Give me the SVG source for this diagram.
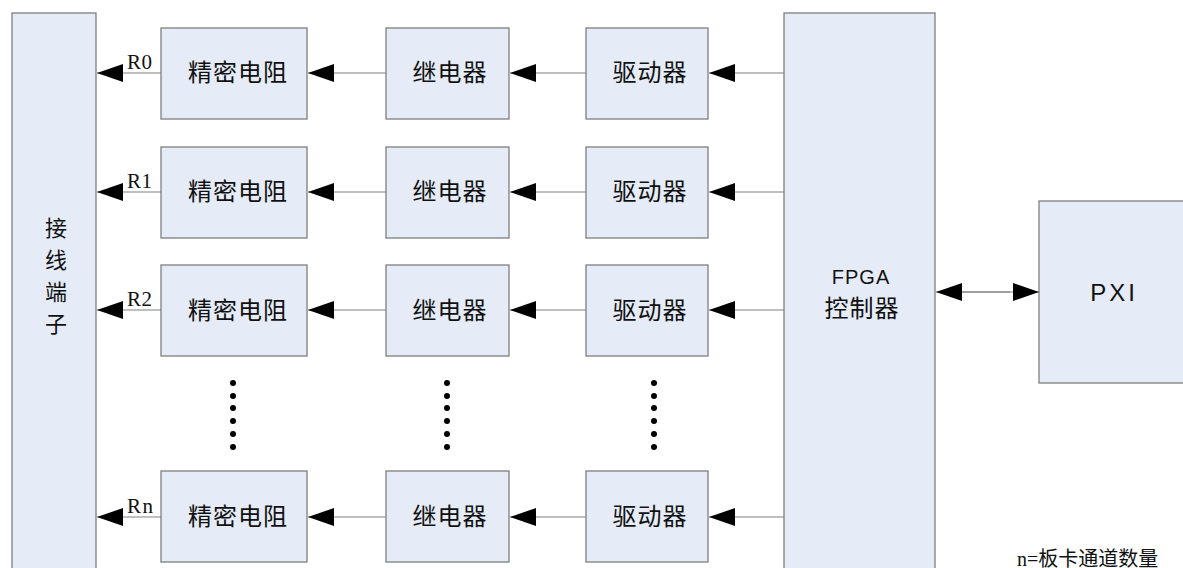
<svg xmlns="http://www.w3.org/2000/svg" width="1183" height="568" viewBox="0 0 1183 568">
<style>
.box{fill:#e5ecf7;stroke:#7f7f7f;stroke-width:1.3}
.t{font-family:"Noto Sans CJK SC","Liberation Sans",sans-serif;font-size:24px;fill:#111;text-anchor:middle;letter-spacing:1px}
.v{font-family:"Noto Sans CJK SC",sans-serif;font-size:22px;fill:#111;text-anchor:middle}
.r{font-family:"Liberation Serif",serif;font-size:21px;fill:#111}
.ln{stroke:#808080;stroke-width:1.2;fill:none}
.dot{fill:#000}
</style>
<defs>
<marker id="ah" markerUnits="userSpaceOnUse" markerWidth="28" markerHeight="20" refX="26" refY="9" orient="auto">
<path d="M0,0 L26,9 L0,18 Z" fill="#000"/>
</marker>
</defs>
<rect width="1183" height="568" fill="#fff"/>

<g id="terminal">
<rect class="box" x="12" y="13" width="84" height="570"/>
<text class="v" x="56" y="236">接</text>
<text class="v" x="56" y="268">线</text>
<text class="v" x="56" y="300">端</text>
<text class="v" x="56" y="332">子</text>
</g>

<g id="fpga">
<rect class="box" x="784" y="13" width="151" height="570"/>
<text class="t" x="861" y="284" style="font-family:'Liberation Sans',sans-serif;font-size:20px;letter-spacing:1px">FPGA</text>
<text class="t" x="862" y="317">控制器</text>
</g>

<g id="pxi">
<rect class="box" x="1039" y="201" width="150" height="182"/>
<text class="t" x="1114" y="301" style="font-family:'Liberation Sans',sans-serif;font-size:24px;letter-spacing:3px">PXI</text>
</g>

<g id="row0">
<rect class="box" x="161" y="28" width="146" height="91"/>
<text class="t" x="238" y="81">精密电阻</text>
<rect class="box" x="386" y="28" width="123" height="91"/>
<text class="t" x="450" y="81">继电器</text>
<rect class="box" x="586" y="28" width="122" height="91"/>
<text class="t" x="650" y="81">驱动器</text>
</g>
<g id="row1">
<rect class="box" x="161" y="147" width="146" height="91"/>
<text class="t" x="238" y="200">精密电阻</text>
<rect class="box" x="386" y="147" width="123" height="91"/>
<text class="t" x="450" y="200">继电器</text>
<rect class="box" x="586" y="147" width="122" height="91"/>
<text class="t" x="650" y="200">驱动器</text>
</g>
<g id="row2">
<rect class="box" x="161" y="265" width="146" height="91"/>
<text class="t" x="238" y="319">精密电阻</text>
<rect class="box" x="386" y="265" width="123" height="91"/>
<text class="t" x="450" y="319">继电器</text>
<rect class="box" x="586" y="265" width="122" height="91"/>
<text class="t" x="650" y="319">驱动器</text>
</g>
<g id="rown">
<rect class="box" x="161" y="471" width="146" height="91"/>
<text class="t" x="238" y="525">精密电阻</text>
<rect class="box" x="386" y="471" width="123" height="91"/>
<text class="t" x="450" y="525">继电器</text>
<rect class="box" x="586" y="471" width="122" height="91"/>
<text class="t" x="650" y="525">驱动器</text>
</g>

<g id="connectors">
<path class="ln" d="M161,73 H97" marker-end="url(#ah)"/>
<path class="ln" d="M386,73 H308" marker-end="url(#ah)"/>
<path class="ln" d="M586,73 H510" marker-end="url(#ah)"/>
<path class="ln" d="M784,73 H709" marker-end="url(#ah)"/>

<path class="ln" d="M161,192 H97" marker-end="url(#ah)"/>
<path class="ln" d="M386,192 H308" marker-end="url(#ah)"/>
<path class="ln" d="M586,192 H510" marker-end="url(#ah)"/>
<path class="ln" d="M784,192 H709" marker-end="url(#ah)"/>

<path class="ln" d="M161,310 H97" marker-end="url(#ah)"/>
<path class="ln" d="M386,310 H308" marker-end="url(#ah)"/>
<path class="ln" d="M586,310 H510" marker-end="url(#ah)"/>
<path class="ln" d="M784,310 H709" marker-end="url(#ah)"/>

<path class="ln" d="M161,517 H97" marker-end="url(#ah)"/>
<path class="ln" d="M386,517 H308" marker-end="url(#ah)"/>
<path class="ln" d="M586,517 H510" marker-end="url(#ah)"/>
<path class="ln" d="M784,517 H709" marker-end="url(#ah)"/>

<path class="ln" d="M960,292 H1039" marker-end="url(#ah)"/>
<path class="ln" d="M1010,292 H936" marker-end="url(#ah)"/>
</g>

<g id="labels">
<text class="r" x="127" y="69" textLength="25">R0</text>
<text class="r" x="127" y="188" textLength="25">R1</text>
<text class="r" x="127" y="306" textLength="25">R2</text>
<text class="r" x="127" y="513" textLength="26">Rn</text>
<text class="r" x="1017" y="566" style="font-family:'Liberation Serif','Noto Sans CJK SC',serif;font-size:20px">n=板卡通道数量</text>
</g>

<g id="dots">
<circle class="dot" cx="233" cy="383" r="3"/><circle class="dot" cx="233" cy="396" r="3"/><circle class="dot" cx="233" cy="408" r="3"/><circle class="dot" cx="233" cy="421" r="3"/><circle class="dot" cx="233" cy="434" r="3"/><circle class="dot" cx="233" cy="447" r="3"/>
<circle class="dot" cx="447" cy="383" r="3"/><circle class="dot" cx="447" cy="396" r="3"/><circle class="dot" cx="447" cy="408" r="3"/><circle class="dot" cx="447" cy="421" r="3"/><circle class="dot" cx="447" cy="434" r="3"/><circle class="dot" cx="447" cy="447" r="3"/>
<circle class="dot" cx="654" cy="383" r="3"/><circle class="dot" cx="654" cy="396" r="3"/><circle class="dot" cx="654" cy="408" r="3"/><circle class="dot" cx="654" cy="421" r="3"/><circle class="dot" cx="654" cy="434" r="3"/><circle class="dot" cx="654" cy="447" r="3"/>
</g>
</svg>
